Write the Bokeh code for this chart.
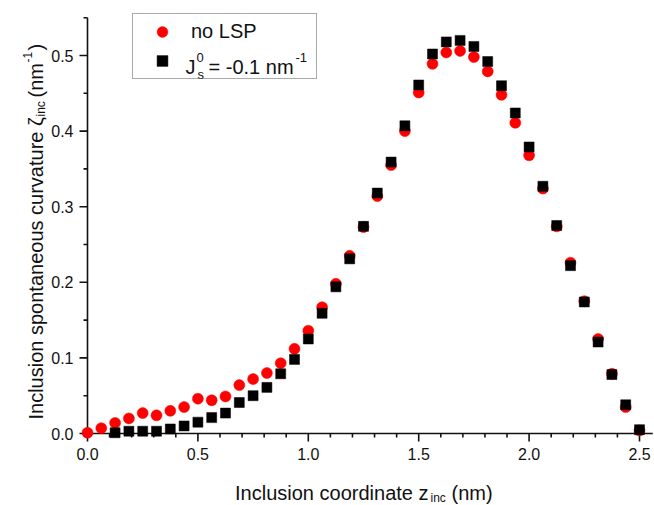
import numpy as np
from bokeh.plotting import figure
from bokeh.models import ColumnDataSource, Legend, LegendItem, Range1d
from bokeh.core.properties import value
from bokeh.embed import file_html
from bokeh.resources import INLINE

# ---------------- data ----------------
z_inc = [0.0, 0.0625, 0.125, 0.1875, 0.25, 0.3125, 0.375, 0.4375, 0.5, 0.5625,
         0.625, 0.6875, 0.75, 0.8125, 0.875, 0.9375, 1.0, 1.0625, 1.125, 1.1875,
         1.25, 1.3125, 1.375, 1.4375, 1.5, 1.5625, 1.625, 1.6875, 1.75, 1.8125,
         1.875, 1.9375, 2.0, 2.0625, 2.125, 2.1875, 2.25, 2.3125, 2.375, 2.4375, 2.5]

no_lsp = [0.001, 0.007, 0.014, 0.020, 0.027, 0.024, 0.030, 0.035, 0.046, 0.044,
          0.049, 0.064, 0.072, 0.080, 0.093, 0.112, 0.136, 0.167, 0.198, 0.235,
          0.273, 0.314, 0.355, 0.400, 0.451, 0.489, 0.504, 0.506, 0.498, 0.479,
          0.448, 0.411, 0.368, 0.324, 0.274, 0.226, 0.175, 0.125, 0.079, 0.035, 0.004]

js_m01 = [np.nan, np.nan, 0.001, 0.003, 0.003, 0.003, 0.006, 0.010, 0.015, 0.021,
          0.027, 0.041, 0.050, 0.061, 0.079, 0.098, 0.125, 0.159, 0.194, 0.231,
          0.274, 0.318, 0.359, 0.407, 0.461, 0.502, 0.518, 0.520, 0.512, 0.492,
          0.460, 0.424, 0.379, 0.327, 0.275, 0.222, 0.174, 0.121, 0.078, 0.038, 0.005]

x_major_ticks = [0.0, 0.5, 1.0, 1.5, 2.0, 2.5]
x_minor_ticks = [0.1, 0.2, 0.3, 0.4, 0.6, 0.7, 0.8, 0.9, 1.1, 1.2, 1.3, 1.4,
                 1.6, 1.7, 1.8, 1.9, 2.1, 2.2, 2.3, 2.4]
y_major_ticks = [0.0, 0.1, 0.2, 0.3, 0.4, 0.5]
y_minor_ticks = [0.05, 0.15, 0.25, 0.35, 0.45, 0.55]
x_axis_end = 2.56
y_axis_end = 0.55

# ---------------- layout (frame = whole canvas) ----------------
W, H = 654, 505
OX, OY = 87, 433          # pixel position of the data origin
XS, YS = 220.8, 756.0     # pixels per data unit
FONT = "Liberation Sans"
INK = "#111111"


def X(px):
    return (px - OX) / XS


def Y(py):
    return (OY - py) / YS


p = figure(width=W, height=H, x_range=Range1d(X(0), X(W)), y_range=Range1d(Y(H), Y(0)),
           output_backend="svg", toolbar_location=None, title=None,
           x_axis_type=None, y_axis_type=None,
           min_border_left=0, min_border_right=0, min_border_top=0, min_border_bottom=0)
p.xgrid.visible = False
p.ygrid.visible = False
p.outline_line_color = None
p.background_fill_color = "white"
p.border_fill_color = "white"

# ---------------- axes drawn by hand ----------------
LW = 1.6
p.segment(x0=[0, 0], y0=[0, 0], x1=[x_axis_end, 0], y1=[0, y_axis_end],
          line_color=INK, line_width=LW)
# x ticks (outward, below)
p.segment(x0=x_major_ticks, y0=[0] * len(x_major_ticks), x1=x_major_ticks,
          y1=[-8 / YS] * len(x_major_ticks), line_color=INK, line_width=LW)
p.segment(x0=x_minor_ticks, y0=[0] * len(x_minor_ticks), x1=x_minor_ticks,
          y1=[-4 / YS] * len(x_minor_ticks), line_color=INK, line_width=LW)
# y ticks (outward, left)
p.segment(x0=[0] * len(y_major_ticks), y0=y_major_ticks, x1=[-8 / XS] * len(y_major_ticks),
          y1=y_major_ticks, line_color=INK, line_width=LW)
p.segment(x0=[0] * len(y_minor_ticks), y0=y_minor_ticks, x1=[-4 / XS] * len(y_minor_ticks),
          y1=y_minor_ticks, line_color=INK, line_width=LW)
# tick labels
p.text(x=x_major_ticks, y=[-14 / YS] * len(x_major_ticks),
       text=["%.1f" % t for t in x_major_ticks], text_font=value(FONT),
       text_font_size=value("16px"), text_color=INK, text_align="center",
       text_baseline="top")
p.text(x=[-14 / XS] * len(y_major_ticks), y=y_major_ticks,
       text=["%.1f" % t for t in y_major_ticks], text_font=value(FONT),
       text_font_size=value("16px"), text_color=INK, text_align="right",
       text_baseline="middle")

# ---------------- data marks ----------------
src_red = ColumnDataSource(dict(x=z_inc, y=no_lsp))
src_blk = ColumnDataSource(dict(x=z_inc, y=js_m01))

r_red = p.scatter("x", "y", source=src_red, marker="circle", size=11,
                  fill_color="#ff0000", line_color="#ff0000", line_width=0.5)
r_blk = p.scatter("x", "y", source=src_blk, marker="square", size=10,
                  fill_color="#000000", line_color="#000000", line_width=0.5)


def lab(text, px, py, size, align="left", angle=0.0):
    p.text(x=[X(px)], y=[Y(py)], text=[text], text_font=value(FONT),
           text_font_size=value(size), text_align=align, text_baseline="alphabetic",
           text_color=INK, angle=angle)


# legend second entry text: J_s^0 = -0.1 nm^-1
lab("J", 185, 66, "20px")
lab("0", 196, 57, "13px")
lab("s", 197, 74, "13px")
lab("= -0.1 nm", 208, 66, "20px")
lab("-1", 295, 57, "13px")

# x axis label
lab("Inclusion coordinate z", 428, 492, "20px", align="right")
lab("inc", 430, 497, "12px")
lab("(nm)", 451, 492, "20px")

# y axis label (rotated, reading bottom to top)
A = np.pi / 2
lab("Inclusion spontaneous curvature \u03b6", 35, 419, "20px", angle=A)
lab("inc", 40, 116, "12px", angle=A)
lab("(nm", 35, 97, "20px", angle=A)
lab("-1", 27, 62, "12px", angle=A)
lab(")", 35, 50, "20px", angle=A)

# ---------------- legend ----------------
legend = Legend(items=[LegendItem(label=value("no LSP"), renderers=[r_red]),
                       LegendItem(label=value(" "), renderers=[r_blk])],
                location=(132, H - 79), margin=0, padding=4, spacing=2,
                glyph_width=50, glyph_height=27, label_height=27, label_width=121,
                label_standoff=4, border_line_color="#555555", border_line_width=1,
                background_fill_alpha=0.0,
                label_text_font=FONT, label_text_font_size="20px", label_text_color=INK)
p.add_layout(legend)

open("out.html", "w").write(file_html(p, INLINE))
